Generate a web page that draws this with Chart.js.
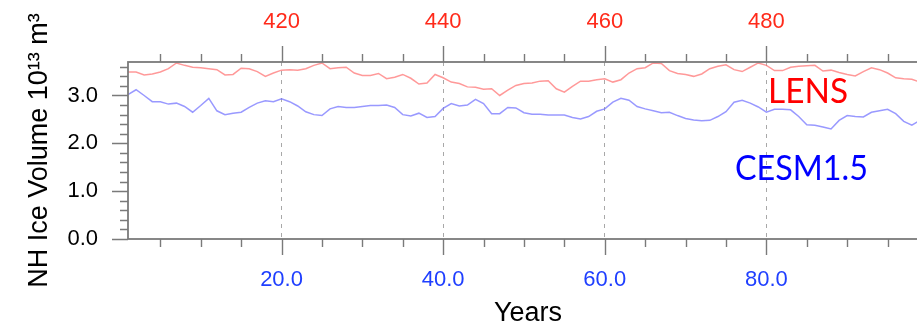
<!DOCTYPE html>
<html><head><meta charset="utf-8">
<script src="https://cdn.jsdelivr.net/npm/chart.js@4"></script>
<style>html,body{margin:0;padding:0;background:#fff;overflow:hidden;width:917px;height:329px}canvas{display:block}</style>
</head><body>
<canvas id="c" width="930" height="329" style="width:930px;height:329px"></canvas>
<script>
const years = [1,2,3,4,5,6,7,8,9,10,11,12,13,14,15,16,17,18,19,20,21,22,23,24,25,26,27,28,29,30,31,32,33,34,35,36,37,38,39,40,41,42,43,44,45,46,47,48,49,50,51,52,53,54,55,56,57,58,59,60,61,62,63,64,65,66,67,68,69,70,71,72,73,74,75,76,77,78,79,80,81,82,83,84,85,86,87,88,89,90,91,92,93,94,95,96,97,98,99,100];
const lens = [3.49,3.49,3.43,3.45,3.49,3.56,3.68,3.63,3.59,3.58,
              3.56,3.54,3.43,3.44,3.57,3.56,3.50,3.40,3.47,3.53,
              3.54,3.53,3.56,3.63,3.68,3.56,3.58,3.59,3.47,3.42,
              3.42,3.46,3.35,3.38,3.44,3.36,3.24,3.26,3.44,3.37,
              3.28,3.25,3.18,3.17,3.13,3.14,3.00,3.11,3.21,3.25,
              3.26,3.30,3.31,3.14,3.07,3.19,3.30,3.30,3.33,3.35,
              3.28,3.33,3.47,3.56,3.58,3.68,3.67,3.52,3.46,3.44,
              3.40,3.45,3.56,3.61,3.64,3.54,3.50,3.59,3.68,3.63,
              3.52,3.52,3.59,3.61,3.62,3.63,3.51,3.53,3.48,3.44,
              3.41,3.50,3.58,3.54,3.47,3.37,3.35,3.34,3.28,3.25];
const cesm = [3.02,3.12,3.00,2.87,2.87,2.82,2.84,2.77,2.65,2.79,
              2.94,2.68,2.60,2.63,2.65,2.75,2.84,2.89,2.87,2.93,
              2.87,2.78,2.66,2.60,2.58,2.72,2.77,2.75,2.75,2.77,
              2.79,2.79,2.80,2.75,2.60,2.57,2.63,2.54,2.56,2.73,
              2.83,2.78,2.80,2.92,2.83,2.62,2.62,2.75,2.74,2.64,
              2.61,2.61,2.59,2.59,2.59,2.54,2.51,2.56,2.67,2.72,
              2.86,2.94,2.90,2.77,2.72,2.68,2.64,2.65,2.58,2.52,
              2.49,2.47,2.48,2.56,2.66,2.86,2.90,2.84,2.76,2.65,
              2.71,2.71,2.70,2.56,2.39,2.38,2.34,2.30,2.48,2.58,
              2.56,2.55,2.65,2.68,2.71,2.62,2.46,2.38,2.48,2.52];
const seriesNames = ['LENS', 'CESM1.5'];
const bottomTicks = [20, 40, 60, 80];
const bottomTickLabels = ['20.0', '40.0', '60.0', '80.0'];
const topTicks = [420, 440, 460, 480];
const topTickLabels = ['420', '440', '460', '480'];
const yTicks = [0, 1, 2, 3];
const yTickLabels = ['0.0', '1.0', '2.0', '3.0'];
const yTitle = 'NH Ice Volume 10\u00B9\u00B3 m\u00B3';
const xTitle = 'Years';

const FONT = "'Liberation Sans', Arial, Helvetica, sans-serif";

const framePlugin = {
  id: 'frame',
  afterDraw(chart) {
    const {ctx, chartArea: a, scales} = chart;
    const x = scales.x, y = scales.y;
    ctx.save();
    ctx.strokeStyle = '#7a7a7a';
    ctx.lineWidth = 1.4;
    ctx.beginPath();
    for (let v = 5; v <= 100; v += 5) {
      const px = Math.round(x.getPixelForValue(v)) + 0.5;
      const len = (v % 20 === 0) ? 16 : 8;
      ctx.moveTo(px, a.bottom); ctx.lineTo(px, a.bottom + len);
      ctx.moveTo(px, a.top); ctx.lineTo(px, a.top - len);
    }
    for (let k = 0; k <= 18; k++) {
      const v = k * 0.2;
      const py = Math.round(y.getPixelForValue(v)) + 0.5;
      const len = (k % 5 === 0) ? 16 : 8;
      ctx.moveTo(a.left, py); ctx.lineTo(a.left - len, py);
      ctx.moveTo(a.right, py); ctx.lineTo(a.right + len, py);
    }
    ctx.stroke();
    ctx.lineWidth = 1.8;
    ctx.strokeRect(a.left, a.top, a.right - a.left, a.bottom - a.top);
    ctx.textAlign = 'left';
    ctx.textBaseline = 'alphabetic';
    ctx.font = "35px Lato, 'Open Sans', sans-serif";
    ctx.fillStyle = '#ff0000';
    ctx.fillText(seriesNames[0], 768, 103, 80);
    ctx.fillStyle = '#0000ff';
    ctx.fillText(seriesNames[1], 735, 180, 133);
    ctx.restore();
  }
};

const fixTicks = (arr) => (s) => { s.ticks = arr.map(v => ({value: v})); };

new Chart(document.getElementById('c'), {
  type: 'line',
  data: {
    datasets: [
      {label: seriesNames[0], data: years.map((t, i) => ({x: t, y: lens[i]})),
       borderColor: 'rgba(255,110,110,0.7)', borderWidth: 1.5, pointRadius: 0, tension: 0,
       xAxisID: 'x', yAxisID: 'y'},
      {label: seriesNames[1], data: years.map((t, i) => ({x: t, y: cesm[i]})),
       borderColor: 'rgba(110,110,255,0.7)', borderWidth: 1.5, pointRadius: 0, tension: 0,
       xAxisID: 'x', yAxisID: 'y'}
    ]
  },
  options: {
    responsive: false, animation: false, devicePixelRatio: 1,
    layout: {padding: {left: 0, right: 2, top: 0, bottom: 0}},
    plugins: {legend: {display: false}, tooltip: {enabled: false}},
    scales: {
      x: {
        type: 'linear', position: 'bottom', min: 1, max: 100,
        afterBuildTicks: fixTicks(bottomTicks),
        afterFit: (s) => { s.height = 90; },
        grid: {display: true, drawOnChartArea: true, drawTicks: false, color: '#a8a8a8', lineWidth: 1},
        border: {display: false, dash: [4, 5]},
        ticks: {padding: 30, color: '#1f3fff', maxRotation: 0, autoSkip: false,
                font: {family: FONT, size: 22, lineHeight: 1},
                callback: (v) => bottomTickLabels[bottomTicks.indexOf(v)]},
        title: {display: true, text: xTitle, color: '#000',
                font: {family: FONT, size: 27, lineHeight: 1}, padding: {top: 0, bottom: 1.5}}
      },
      x2: {
        type: 'linear', position: 'top', min: 401, max: 500,
        afterBuildTicks: fixTicks(topTicks),
        afterFit: (s) => { s.height = 62; },
        grid: {display: false, drawTicks: false},
        border: {display: false},
        ticks: {padding: 29, color: '#ff2a1a', maxRotation: 0, autoSkip: false,
                font: {family: FONT, size: 22, lineHeight: 1},
                callback: (v) => topTickLabels[topTicks.indexOf(v)]}
      },
      y: {
        type: 'linear', position: 'left', min: 0, max: 3.7,
        afterBuildTicks: fixTicks(yTicks),
        afterFit: (s) => { s.width = 128; },
        grid: {display: false, drawTicks: false},
        border: {display: false},
        ticks: {padding: 30, color: '#000', autoSkip: false,
                font: {family: FONT, size: 22, lineHeight: 1},
                callback: (v) => yTickLabels[yTicks.indexOf(v)]},
        title: {display: true, text: yTitle, color: '#000',
                font: {family: FONT, size: 27, lineHeight: 1}, padding: {top: 26.5, bottom: 0}}
      }
    }
  },
  plugins: [framePlugin]
});
</script>
</body></html>
